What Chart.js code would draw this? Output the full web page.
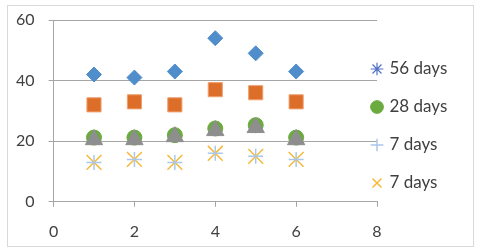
<!DOCTYPE html>
<html><head><meta charset="utf-8">
<script src="https://cdn.jsdelivr.net/npm/chart.js@4/dist/chart.umd.min.js"></script>
<style>
html,body{margin:0;padding:0;background:#fff;}
#wrap{position:relative;width:480px;height:251px;}
#frame{position:absolute;left:7px;top:5px;width:465px;height:240px;border:1px solid #d9d9d9;pointer-events:none;}
canvas{display:block;}
</style></head><body>
<div id="wrap"><canvas id="c" width="480" height="251"></canvas><div id="frame"></div></div>
<script>
// ---- data ----
const xValues = [1, 2, 3, 4, 5, 6];
const seriesDiamond = [42, 41, 43, 54, 49, 43];
const seriesSquare = [32, 33, 32, 37, 36, 33];
const seriesTriangle = [20.5, 20.5, 21.5, 23.5, 24.5, 20.5];
const series56 = [];
const series28 = [21.2, 21.2, 22, 24.2, 25.3, 21.2];
const series7plus = [13, 14, 13, 16, 15, 14];
const series7x = [13, 14, 13, 16, 15, 14];
const seriesNames = ['', '', '', '56 days', '28 days', '7 days', '7 days'];
const xTickValues = [0, 2, 4, 6, 8];
const yTickValues = [0, 20, 40, 60];

const toPts = arr => arr.map((v, i) => ({x: xValues[i], y: v}));

Chart.defaults.font.family = 'Lato, "Liberation Sans", sans-serif';
Chart.defaults.color = '#404040';

const legendShift = {
  id: 'legendShift',
  afterLayout(chart) {
    const l = chart.legend;
    if (!l) return;
    const dx = -25, dy = -9;
    l.left += dx; l.right += dx; l.top += dy; l.bottom += dy;
  }
};

const gridColor = '#a6a6a6';

new Chart(document.getElementById('c'), {
  type: 'scatter',
  data: {
    datasets: [
      {label: seriesNames[0], data: toPts(seriesDiamond), pointStyle: 'rectRot', pointRadius: 7.5,
       backgroundColor: '#4F8DCB', borderColor: '#4F8DCB', borderWidth: 1},
      {label: seriesNames[1], data: toPts(seriesSquare), pointStyle: 'rect', pointRadius: 10,
       backgroundColor: '#DD6E2A', borderColor: '#F0A070', borderWidth: 1},
      {label: seriesNames[2], data: toPts(seriesTriangle), pointStyle: 'triangle', pointRadius: 10,
       backgroundColor: '#8E8E8E', borderColor: '#8E8E8E', borderWidth: 1},
      {label: seriesNames[3], data: toPts(series56), pointStyle: 'star', pointRadius: 7,
       backgroundColor: '#5472C4', borderColor: '#5472C4', borderWidth: 1.2},
      {label: seriesNames[4], data: toPts(series28), pointStyle: 'circle', pointRadius: 7.5,
       backgroundColor: '#6AAA3F', borderColor: '#6AAA3F', borderWidth: 1},
      {label: seriesNames[5], data: toPts(series7plus), pointStyle: 'cross', pointRadius: 7.5,
       backgroundColor: '#A9C8EA', borderColor: '#A9C8EA', borderWidth: 1.5},
      {label: seriesNames[6], data: toPts(series7x), pointStyle: 'crossRot', pointRadius: 10.5,
       backgroundColor: '#F5B93A', borderColor: '#F5B93A', borderWidth: 1.5}
    ]
  },
  options: {
    responsive: false,
    animation: false,
    events: [],
    layout: {padding: {left: 2, top: 14, right: 0, bottom: -5}},
    plugins: {
      tooltip: {enabled: false},
      legend: {
        position: 'right',
        maxWidth: 103,
        labels: {
          usePointStyle: true,
          boxWidth: 8,
          boxHeight: 9,
          padding: 21,
          font: {size: 17},
          color: '#404040',
          filter: item => item.text !== ''
        }
      }
    },
    scales: {
      x: {
        type: 'linear', min: 0, max: 8,
        afterBuildTicks: s => { s.ticks = xTickValues.map(v => ({value: v})); },
        ticks: {font: {size: 16}, color: '#404040', padding: 15},
        grid: {drawOnChartArea: false, drawTicks: true, tickLength: 5, color: gridColor},
        border: {display: true, color: gridColor}
      },
      y: {
        min: 0, max: 60,
        afterBuildTicks: s => { s.ticks = yTickValues.map(v => ({value: v})); },
        ticks: {font: {size: 16, lineHeight: 0.75}, color: '#404040', padding: 14},
        grid: {color: gridColor, tickLength: 5},
        border: {display: true, color: gridColor}
      }
    }
  },
  plugins: [legendShift]
});
</script>
</body></html>
